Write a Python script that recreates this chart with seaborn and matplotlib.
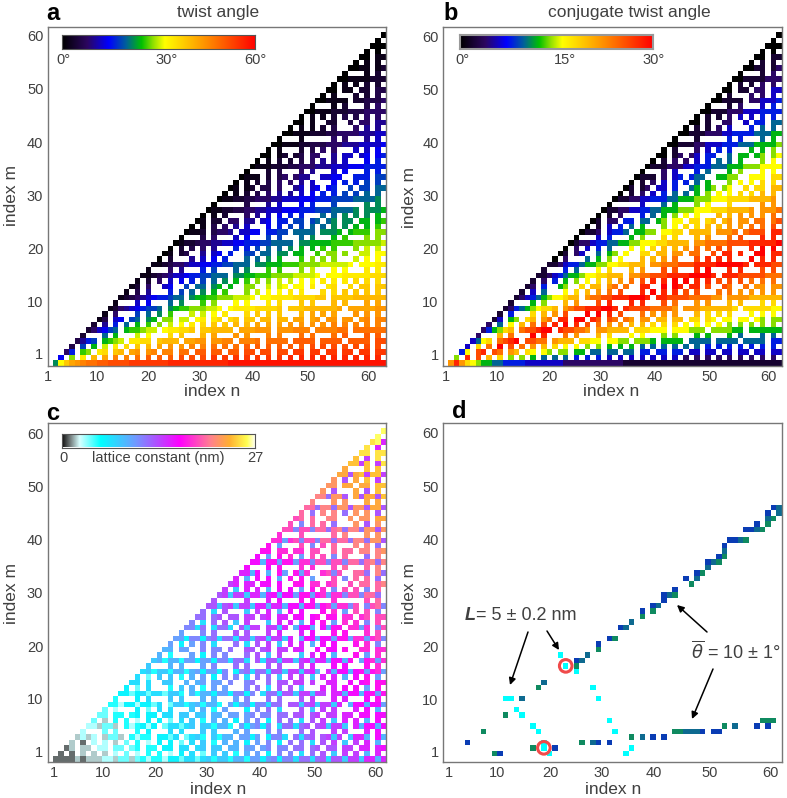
import numpy as np
import pandas as pd
import seaborn as sns
import matplotlib
matplotlib.use("Agg")
import matplotlib.pyplot as plt
from matplotlib.colors import LinearSegmentedColormap
from matplotlib.patches import Ellipse
from math import gcd

sns.set_theme(style="white")
plt.rcParams["font.family"] = ["Liberation Sans", "DejaVu Sans"]

# Cell values typed per row m=1..61, from n=m+1 to n=62; '.' = empty cell.
# twist_rows: angle in units of 2 degrees, base 36.  lattice_rows: nm, base 36.
twist_rows = [
"bgjlmnooppqqqqrrrrrrrssssssssssstttttttttttttttttttttttttttttt"[:61],
"7.e.h.k.l.n.n.o.p.p.p.q.q.q.r.r.r.r.r.r.r.s.s.s.s.s.s.s.s.s.",
"48.de.hi.jk.lm.mn.nn.oo.pp.pp.pp.qq.qq.qq.rr.rr.rr.rr.rr.rr",
"3.9.c.f.h.i.j.k.l.m.m.n.n.o.o.o.p.p.p.p.p.p.q.q.q.q.q.q.q.",
"3589.cdef.hhii.jkkk.llmm.mmnn.nnno.oooo.pppp.pppp.pppp.qq",
"2...a.c...f.g...i.j...k.l...m.m...n.n...o.o...o.p...p.p.",
"24679a.cddeff.ghhiij.jjkkkk.lllmmm.mmmnnn.nnnnoo.oooooo",
"2.5.8.a.c.d.e.f.g.h.i.j.j.k.k.l.l.l.m.m.m.m.n.n.n.n.n.",
"13.67.9a.bc.ee.ff.gh.hi.ij.jj.kk.kk.ll.lm.mm.mm.mn.nn",
"1.4...9.a.b.d...f.f.g.h...i.j.j.j...k.l.l.l...m.m.m.",
"124567899a.bcddeeeffg.ghhhhiiiij.jjjkkkkkkl.lllllmm",
"1...6.7...a.b...d.e...g.g...h.i...j.j...k.k...l.l.",
"1234567889aa.bccddeeefffg.gghhhhiiiijj.jjjjkkkkkk",
"1.3.5...8.9.a.b.c.d...e.f.g.g.h.h...i.i.j.j.j.j.",
"12.4..67..9.aa.bc.c..ee..f.fg.gg.h..hi..i.jj.jj",
"1.2.4.6.7.8.9.a.b.c.d.e.e.f.f.g.g.h.h.h.i.i.i.",
"1123456678899aaa.bbccdddeeeeffffg.ggghhhhhiii",
"1...4.5...8.9...a.b...d.d...e.f...g.g...h.h.",
"112344566778899aaa.bbcccdddeeeefffffg.ggghh",
"0.2...5.6.7.8...a.a.b.c...d.e.e.e...f.g.g.",
"01.23..5.67.8..99.aa.bb.cc..d.ee.e..ff.gg",
"0.2.3.4.5...8.8.9.a.a.b.c.c.d.d...e.f.f.",
"012234455667788899aaaa.bbccccddddeeeeef",
"0...3.4...6.7...9.9...a.b...c.d...e.e.",
"0112.3445.6677.8899.aaaa.bbbc.cddd.ee",
"0.1.3.4.5.6...7.8.9.9.a.a.b.b.c.c.d.",
"01.22.44.55.67.88.99.9a.ab.bb.cc.cd",
"0.1.2...4.5.6.7.8.8...a.a.b.b.b.c.",
"01122334455666777888999aaaab.bbbc",
"0.....3...5.6...7.8...9.....b.b.",
"011223344455666777888" "9999aaaab.",
"0.1.2.3.4.5.5.6.7.8.8.9.9.a.a.",
"01.12.33.4..56.67.78..9.99.aa",
"0.1.2.3.4.4.5.6...7.8.8.9.9.",
"0111.2.34.455..6677..888.99",
"0...2.3...4.5...6.7...8.8.",
"0111222334445556667778888",
"0.1.2.2.3.4.5.5.6...7.8.",
"00.12.23.44..5.66.67.78",
"0.1...2.3.4.4...6.6.7.",
"001112233344455566667",
"0...1.....4.4...5.6.",
"0011122233444455566",
"0.1.1.2.3...4.5.5.",
"00.1..22..3.44.55",
"0.1.1.2.3.3.4.4.",
"001112223334444",
"0...1.2...3.4.",
"001111.223334",
"0.1...2.2.3.",
"00.11.22.33",
"0.1.1.2.2.",
"001111222",
"0...1.2.",
"0011.12",
"0.1.1.",
"00.11",
"0.0.",
"000",
"0.",
"0",
]
lattice_rows = [
"111121222332442453553664774785885995aa6ab6bb7cc7cd7dd8ee8ff9f",
"1.1.2.2.2.3.4.3.5.5.3.6.7.4.8.8.5.9.a.6.b.b.7.c.d.8.e.e.9.f.",
"12.22.33.44.45.55.66.77.78.88.99.aa.ab.bb.cc.cd.dd.ee.ff.fg",
"2.1.3.3.2.4.5.3.6.6.4.7.8.5.9.9.6.a.b.6.c.c.7.d.e.8.e.f.9.",
"2323.2442.5355.6647.4785.8599.aa6a.6bb7.c7cd.de8e.8ff9.g9",
"3...4.4...5.6...7.7...8.8...9.a...b.b...c.d...e.e...f.g.",
"332442.535636.477478.885995.a6ab6b.7cc7cd.de8ee8.f9gg9g",
"4.2.5.5.3.6.6.4.7.8.5.9.9.6.a.b.6.c.c.7.d.e.8.f.f.9.g.",
"44.55.56.66.77.88.88.99.aa.ab.bb.cc.dd.de.ee.ff.gg.gg",
"4.3...6.4.7.7...8.9.5.a...6.b.c.7...d.8.e.e...f.g.9.",
"5536636647.4885895995.a6ab6bb7cc.dd8de8ee8f.9gg9gga",
"5...6.7...8.8...9.9...a.b...c.c...d.e...f.f...g.h.",
"664674774885.95996aa6bb6b.7cc7dd8ee8ee.ff9gg9ghah",
"6.4.7...5.8.9.5.a.a...b.c.7.d.d.8...f.f.g.g.a.h.",
"77.7..88..9.9a.aa.b..bc..c.dd.ee.e..ff..g.gh.hh",
"7.4.8.8.5.9.a.6.b.b.7.c.c.8.e.e.8.f.f.9.g.h.a.",
"7858859959a6aa6b.6bc7cc7dd8ee8ef9.f9gg9ghahia",
"8...9.9...a.b...c.c...d.d...e.f...g.g...h.i.",
"895995aa6aa6bb7cc7.d7dd8ee8ef9ff9gg9h.ahiai",
"9.5...a.6.b.b...c.d.8.e...8.f.g.9...h.a.i.",
"99.aa..b.bb.c..dd.de.ee.ff..g.gg.h..ii.ii",
"a.6.a.b.7...c.7.d.e.8.f.f.9.g.g...h.i.b.",
"aa6bb6bc7cc7dd8de8ee8f.9gg9ggahhaiiaijb",
"a...b.c...d.d...e.f...f.g...h.h...i.j.",
"bb7c.7cc7.d8ee.ee8f.9gg9.gahh.iiai.bj",
"b.7.c.d.8.e...8.f.f.9.g.h.a.i.i.b.j.",
"cc.cd.dd.ee.ef.ff.gg.gh.hh.ii.ij.jj",
"c.7.d...8.e.f.9.g.g...h.i.a.j.j.b.",
"dd8de8ee8ff9ff9gg9hhahiaiibj.bjkb",
"d.....e...f.g...h.h...i.....j.k.",
"de8ee8ff9fg9ggahhahiaiibjjbkkc.",
"e.8.f.f.9.g.g.a.h.i.b.j.j.b.k.",
"ef.ff.gg.g..hh.ii.ij..j.kk.kl",
"f.9.g.g.9.h.h.a...j.b.k.k.c.",
"ff9g.9.ha.hai..ijbj..kkc.lc",
"g...g.h...i.i...j.k...k.l.",
"gg9hhahhaiibjjbjjbkkcklcl",
"g.a.h.i.a.j.j.b.k...c.l.",
"hh.ii.ii.jj..k.kk.ll.lm",
"h.a...j.b.j.k...l.l.c.",
"iiaijbjjbkkckkcllcmmd",
"i...j.....k.l...m.m.",
"jjbjjbkkcklcllcmmdm",
"j.b.k.k.c...m.d.m.",
"jk.k..ll..m.mm.nn",
"k.c.l.l.c.m.m.d.",
"kkcllcmmdmmdnnd",
"l...m.m...n.n.",
"llcmmd.ndnndo",
"m.d...n.d.o.",
"mm.nn.nn.oo",
"m.d.n.o.e.",
"nndnoeooe",
"n...o.o.",
"ooeo.ep",
"o.e.p.",
"pp.pp",
"p.f.",
"pqf",
"q.",
"q",
]

# Panel d: selected cells as (column, row).
d_blue = [(4,3),(10,1),(20,2),(24,18),(28,21),(30,22),(32,24),(36,27),(38,28),(40,29),(28,3),(30,3),
          (38,4),(40,4),(47,5),(49,5),(50,5),(57,6),(59,6),(40,30),(42,31),(44,33),(46,34),(48,36),
          (50,37),(51,39),(52,40),(53,40),(55,42),(56,42),(57,43),(59,45),(60,46)]
d_teal = [(14,11),(18,14),(25,18),(26,19),(33,24),(34,25),(39,28),(27,3),(36,4),(44,5),(45,5),(46,5),
          (53,6),(41,30),(46,33),(49,36),(51,38),(54,40),(57,42),(59,44),(61,46),(61,45),(48,35)]
d_green = [(7,5),(9,1),(11,8),(17,13),(16,2),(24,17),(28,20),(31,22),(36,26),(38,27),(25,3),(34,4),
           (42,5),(43,5),(51,6),(58,7),(59,7),(60,7),(42,30),(45,32),(47,34),(50,36),(51,37),(55,40),
           (58,42),(59,43),(60,44)]
d_cyan = [(11,11),(12,11),(13,9),(14,8),(16,6),(17,5),(18,3),(18,2),(19,1),(21,19),(22,17),(24,16),
          (27,13),(28,11),(30,7),(31,5),(33,1),(34,2)]
d_theta = {"blue": 9.0, "teal": 10.0, "green": 11.0}
circled = [(22, 17), (18, 2)]

tick_text = ["1", "10", "20", "30", "40", "50", "60"]

W, H = 787, 798
N = 62
problems = []
for name, rows in (("twist", twist_rows), ("lattice", lattice_rows)):
    for i, s in enumerate(rows):
        m = i + 1
        if len(s) != 62 - m:
            problems.append(f"{name} m={m} len {len(s)} want {62-m}")
        else:
            bad = [m + 1 + j for j, c in enumerate(s) if (c == ".") != (gcd(m + 1 + j, m) > 1)]
            if bad:
                problems.append(f"{name} m={m} mask {bad}")
if problems:
    raise SystemExit("\n".join(problems))


def decode(rows, step):
    out = np.full((N, N), np.nan)
    for i, s in enumerate(rows):
        for j, c in enumerate(s):
            if c != ".":
                out[i, i + 1 + j] = int(c, 36) * step
    return out


twist = decode(twist_rows, 2.0)
conj = 30.0 - np.abs(twist - 30.0)
lattice = decode(lattice_rows, 1.0)

rainbow = LinearSegmentedColormap.from_list("rb", [
    (0.0, "#000000"), (0.13, "#2c0660"), (0.24, "#0000ff"), (0.33, "#00609a"), (0.41, "#00c000"),
    (0.47, "#90e000"), (0.53, "#ffff00"), (0.75, "#ff8c00"), (1.0, "#ff0000")])
latt_cm = LinearSegmentedColormap.from_list("lc", [
    (0.0, "#101010"), (0.04, "#707878"), (0.09, "#d8ffff"), (0.2, "#00ffff"), (0.37, "#6aa0ff"),
    (0.49, "#b050ff"), (0.61, "#ff00ff"), (0.77, "#ff8090"), (0.87, "#ffb030"), (0.96, "#ffff50"),
    (1.0, "#ffffee")])
d_cm = LinearSegmentedColormap.from_list("dc", ["#0a3cb4", "#0e6a90", "#0f8a60"])
cy_cm = LinearSegmentedColormap.from_list("cy", ["#00ffff", "#00ffff"])

TXT = "#404040"
fig = plt.figure(figsize=(W / 100, H / 100), dpi=100, facecolor="white")


def px_text(x, y, s, **kw):
    kw.setdefault("color", TXT)
    kw.setdefault("ha", "center")
    kw.setdefault("va", "center")
    return fig.text(x / W, 1 - y / H, s, **kw)


def panel(box, xt, yt, letter, letter_pos, xlab_y, ylab_x):
    l, t, r, b = box
    ax = fig.add_axes([l / W, 1 - b / H, (r - l) / W, (b - t) / H])
    ax._box = box
    ax._cfg = (xt, yt)
    px_text(*letter_pos, letter, fontsize=17, fontweight="bold", color="black")
    px_text((xt[0] + xt[-1]) / 2 + 4, xlab_y, "index n", fontsize=12.5)
    px_text(ylab_x, (t + b) / 2 + 10 if False else (yt[0] + yt[-1]) / 2, "index m", fontsize=12.5, rotation=90)
    return ax


def finish(ax):
    l, t, r, b = ax._box
    xt, yt = ax._cfg
    ax.set_xlim(0, N)
    ax.set_ylim(0, N)
    ax.set_xticks([(x - l) / (r - l) * N for x in xt])
    ax.set_xticklabels(tick_text, rotation=0, fontsize=10.5, color=TXT)
    ax.set_yticks([(b - y) / (b - t) * N for y in yt])
    ax.set_yticklabels(tick_text, rotation=0, fontsize=10.5, color=TXT)
    ax.tick_params(length=0, pad=3)
    ax.set_xlabel("")
    ax.set_ylabel("")
    for s in ax.spines.values():
        s.set_visible(True)
        s.set_color("#777777")
        s.set_linewidth(1.0)


def colorbar(box, cmap, edge="#555555", lw=0.8):
    l, t, r, b = box
    cax = fig.add_axes([l / W, 1 - b / H, (r - l) / W, (b - t) / H])
    cax.imshow(np.linspace(0, 1, 512)[None, :], aspect="auto", cmap=cmap)
    cax.set_xticks([])
    cax.set_yticks([])
    for s in cax.spines.values():
        s.set_visible(True)
        s.set_color(edge)
        s.set_linewidth(lw)


# a
ax_a = panel((47.5, 27, 386, 365.7), [47.5, 96.7, 148, 200, 253, 308, 368],
             [355, 303, 250, 197, 144, 90.5, 37], "a", (53, 13), 392, 12)
sns.heatmap(pd.DataFrame(twist), ax=ax_a, cmap=rainbow, vmin=0, vmax=60, cbar=False)
finish(ax_a)
px_text(218, 13, "twist angle", fontsize=12.5)
colorbar((61.7, 35, 255, 49.3), rainbow)
for x, s in [(63.5, "0°"), (166.5, "30°"), (255.5, "60°")]:
    px_text(x, 60, s, fontsize=10.5)

# b
ax_b = panel((442.7, 27, 781.7, 365.7), [446, 497, 549, 601, 655, 710, 768],
             [356, 303, 250, 197, 144, 91, 38], "b", (451, 13), 392, 410)
sns.heatmap(pd.DataFrame(conj), ax=ax_b, cmap=rainbow, vmin=0, vmax=30, cbar=False)
finish(ax_b)
px_text(629, 13, "conjugate twist angle", fontsize=12.5)
colorbar((460, 35, 653, 49.3), rainbow, edge="#999999", lw=1.5)
for x, s in [(462, "0°"), (565, "15°"), (654, "30°")]:
    px_text(x, 60, s, fontsize=10.5)

# c
ax_c = panel((47.5, 422.7, 386, 761.7), [54, 103, 155, 207, 260, 315, 375],
             [753, 700, 648, 594, 541, 488, 435], "c", (53, 413), 789, 12)
sns.heatmap(pd.DataFrame(lattice), ax=ax_c, cmap=latt_cm, vmin=0, vmax=27, cbar=False)
finish(ax_c)
colorbar((62, 433.5, 255, 447.5), latt_cm)
px_text(64, 458, "0", fontsize=10.5)
px_text(158, 458, "lattice constant (nm)", fontsize=10.5)
px_text(255, 458, "27", fontsize=10.5)

# d
ax_d = panel((442.7, 422.7, 781.7, 761.5), [449, 497, 550, 602, 654, 710, 770],
             [753, 701, 648, 594, 541, 488, 434], "d", (459, 412), 789, 410)
d_vals = np.full((N, N), np.nan)
for cells, key in ((d_blue, "blue"), (d_teal, "teal"), (d_green, "green")):
    for c, r in cells:
        d_vals[r, c] = d_theta[key]
d_cyan_vals = np.full((N, N), np.nan)
for c, r in d_cyan:
    d_cyan_vals[r, c] = 1.0
sns.heatmap(pd.DataFrame(d_vals), ax=ax_d, cmap=d_cm, vmin=9, vmax=11, cbar=False)
sns.heatmap(pd.DataFrame(d_cyan_vals), ax=ax_d, cmap=cy_cm, vmin=0, vmax=1, cbar=False)
finish(ax_d)
for c, r in circled:
    ax_d.add_patch(Ellipse((c + 0.5, r + 0.5), 2.3, 2.3, fill=False, ec="#f04a4a", lw=2.2, zorder=5))

px_text(465, 616, "L", fontsize=13, fontweight="bold", fontstyle="italic", ha="left")
px_text(476, 616, "= 5 ± 0.2 nm", fontsize=13, ha="left")
px_text(691, 652, r"$\overline{\theta}$ = 10 ± 1°", fontsize=13, ha="left")


def arrow(x0, y0, x1, y1):
    ax_d.annotate("", xy=(x1, H - y1), xytext=(x0, H - y0), xycoords="figure pixels",
                  textcoords="figure pixels",
                  arrowprops=dict(arrowstyle="-|>", color="black", lw=1.1, shrinkA=0, shrinkB=0, mutation_scale=10))


arrow(528, 632, 510, 685)
arrow(547, 631, 559, 650)
arrow(707, 632, 677, 605)
arrow(713, 669, 692, 719)

fig.savefig("out.png", dpi=100, facecolor="white")
